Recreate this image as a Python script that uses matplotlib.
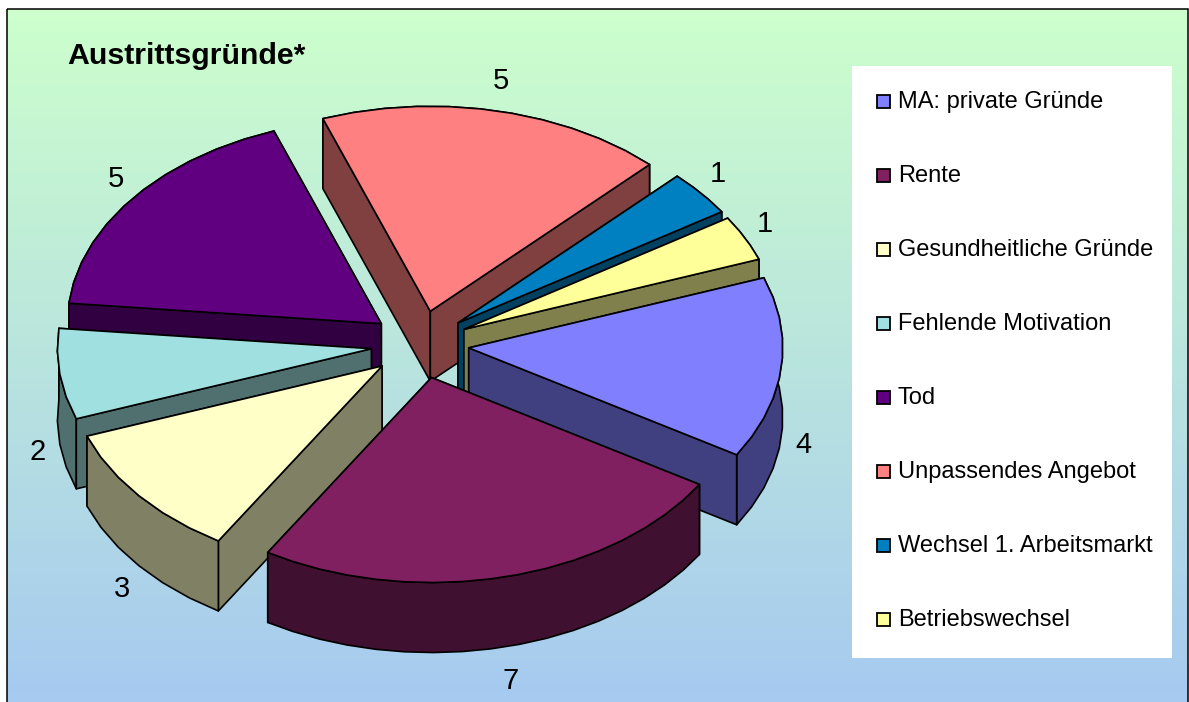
import numpy as np
import matplotlib
matplotlib.use("Agg")
import matplotlib.pyplot as plt
from matplotlib.patches import Polygon, Rectangle

plt.rcParams['font.family'] = ['Liberation Sans', 'DejaVu Sans']

title = "Austrittsgründe*"
labels = ["MA: private Gründe", "Rente", "Gesundheitliche Gründe", "Fehlende Motivation",
          "Tod", "Unpassendes Angebot", "Wechsel 1. Arbeitsmarkt", "Betriebswechsel"]
values = [4, 7, 3, 2, 5, 5, 1, 1]
colors = ["#8080FF", "#802060", "#FFFFC8", "#A0E0E0", "#600080", "#FF8080", "#0080C0", "#FFFF99"]

# pie geometry in pixels of the picture
W, H = 1189, 702
cx, cy = 420, 344.5
rx, ry = 314, 205
depth = 70
explode_x, explode_y = 49, 34
start_angle = 20


def dark(c):
    return tuple(0.5 * v for v in matplotlib.colors.to_rgb(c))


fig = plt.figure(figsize=(W / 100, H / 100), dpi=100, facecolor="white")
ax = fig.add_axes([0, 0, 1, 1])
ax.set_xlim(0, W)
ax.set_ylim(H, 0)
ax.axis("off")

# background gradient, green to blue
top = np.array([204, 255, 204]) / 255
bottom = np.array([166, 202, 240]) / 255
t = np.linspace(0, 1, 64)[:, None, None]
grad = top[None, None, :] * (1 - t) + bottom[None, None, :] * t
ax.imshow(grad, extent=[7, 1188, H + 2, 9], aspect="auto", zorder=0)
ax.set_xlim(0, W)
ax.set_ylim(H, 0)
ax.add_patch(Rectangle((7, 9), 1181, H, fill=False, ec="black", lw=1.1, zorder=1))

# slice angles, clockwise from start_angle
fracs = np.array(values) / sum(values) * 360
ends = start_angle - np.cumsum(fracs)
starts = ends + fracs
mids = (starts + ends) / 2

order = np.argsort(-np.sin(np.radians(mids)))
z = 2
for i in order:
    m = np.radians(mids[i])
    ax_x = cx + explode_x * np.cos(m)
    ax_y = cy - explode_y * np.sin(m)
    a = np.radians(np.linspace(starts[i], ends[i], max(4, int(fracs[i] / 5))))
    arc = np.column_stack([ax_x + rx * np.cos(a), ax_y - ry * np.sin(a)])
    apex = np.array([ax_x, ax_y])
    d = np.array([0, depth])

    face1 = np.array([apex, arc[0], arc[0] + d, apex + d])
    face2 = np.array([apex, arc[-1], arc[-1] + d, apex + d])
    wall = np.vstack([arc, (arc + d)[::-1]])
    # back parts first
    sides = sorted([face1, face2, wall], key=lambda p: p[:, 1].mean())
    for p in sides:
        ax.add_patch(Polygon(p, closed=True, fc=dark(colors[i]), ec="black", lw=1.2,
                             joinstyle="round", zorder=z))
        z += 1
    ax.add_patch(Polygon(np.vstack([apex, arc]), closed=True, fc=colors[i], ec="black", lw=1.2,
                         joinstyle="round", zorder=z))
    z += 1

    # value label just outside the rim
    lx = ax_x + (rx + 22) * np.cos(m)
    ly = ax_y - (ry + 31) * np.sin(m)
    if np.sin(m) < 0:
        ly += depth + 4
    ax.text(lx, ly, str(values[i]), fontsize=21, ha="center", va="center", color="black", zorder=500)

ax.text(67, 56, title, fontsize=21.8, fontweight="bold", ha="left", va="center", color="black", zorder=500)

# legend box
ax.add_patch(Rectangle((852, 66), 320, 592, fc="white", ec="none", zorder=400))
for i, lab in enumerate(labels):
    y = 101.8 + i * 74
    ax.add_patch(Rectangle((877, y - 6.5), 13, 13, fc=colors[i], ec="black", lw=1.3, zorder=401))
    ax.text(898, y + 6.5, lab, fontsize=17, ha="left", va="baseline", color="black", zorder=402)

fig.savefig("out.png", dpi=100)
